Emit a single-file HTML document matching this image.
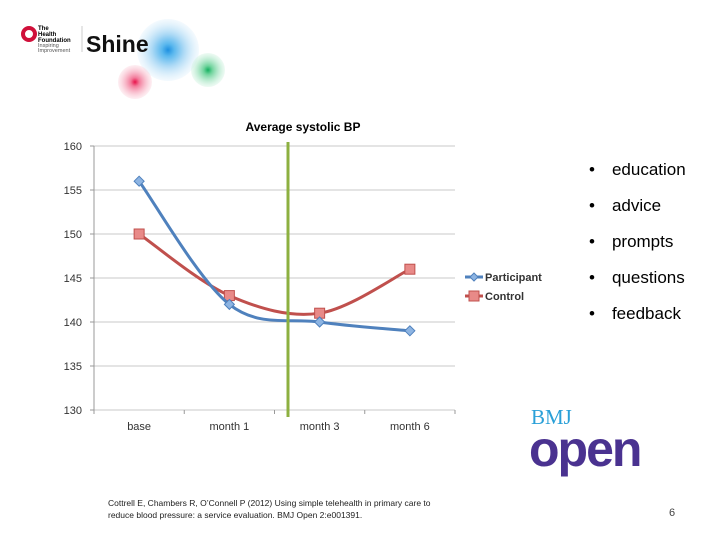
<!DOCTYPE html>
<html><head><meta charset="utf-8"><style>
body{margin:0;width:720px;height:540px;background:#fff;overflow:hidden;position:relative;font-family:"Liberation Sans",sans-serif}
.a{position:absolute}
ul{position:absolute;left:589px;top:158px;margin:0;padding:0;list-style:none}
li{font-size:17px;height:36px;line-height:24px;color:#000}
li:before{content:"•";margin-right:17px}
</style></head><body>
<svg class="a" style="left:0;top:0" width="240" height="110">
<defs>
<radialGradient id="gb"><stop offset="0" stop-color="#1e90e0"/><stop offset="0.2" stop-color="#5bb8ee"/><stop offset="0.5" stop-color="#a9d8f5"/><stop offset="1" stop-color="#e3f2fc" stop-opacity="0.4"/></radialGradient>
<radialGradient id="gr"><stop offset="0" stop-color="#e8124a"/><stop offset="0.25" stop-color="#f27a9a"/><stop offset="1" stop-color="#fbd7e0" stop-opacity="0.4"/></radialGradient>
<radialGradient id="gg"><stop offset="0" stop-color="#14b060"/><stop offset="0.25" stop-color="#6fd39c"/><stop offset="1" stop-color="#d3f3e2" stop-opacity="0.4"/></radialGradient>
</defs>
<circle cx="168" cy="50" r="31" fill="url(#gb)"/>
<circle cx="135" cy="82" r="17" fill="url(#gr)"/>
<circle cx="208" cy="70" r="17" fill="url(#gg)"/>
<circle cx="29" cy="34" r="6" fill="none" stroke="#d0103a" stroke-width="4"/>
<text x="38" y="30" font-size="6" font-weight="bold">The</text>
<text x="38" y="36" font-size="6" font-weight="bold">Health</text>
<text x="38" y="42" font-size="6" font-weight="bold">Foundation</text>
<text x="38" y="47" font-size="5.5" fill="#555">Inspiring</text>
<text x="38" y="52" font-size="5.5" fill="#555">Improvement</text>
<line x1="82" y1="26" x2="82" y2="52" stroke="#ccc"/>
<text x="86" y="52" font-size="23" font-weight="bold" fill="#111">Shine</text>
</svg>

<svg class="a" style="left:0;top:0" width="720" height="540" id="chart"></svg>

<ul>
<li>education</li>
<li>advice</li>
<li>prompts</li>
<li>questions</li>
<li>feedback</li>
</ul>

<div class="a" style="left:531px;top:405px;font-family:'Liberation Serif',serif;font-size:21px;color:#2aa0d8">BMJ</div>
<div class="a" style="left:529px;top:420px;font-size:50px;font-weight:bold;color:#4a3290;letter-spacing:-2px">open</div>
<div class="a" style="left:108px;top:497px;font-size:8.5px;line-height:12px;color:#222">Cottrell E, Chambers R, O’Connell P (2012) Using simple telehealth in primary care to<br>reduce blood pressure: a service evaluation. BMJ Open 2:e001391.</div>
<div class="a" style="left:669px;top:507px;font-size:11px;color:#444">6</div>

<script>
const categories=["base","month 1","month 3","month 6"];
const participant=[156,142,140,139];
const control=[150,143,141,146];
const yTicks=[130,135,140,145,150,155,160];
const NS="http://www.w3.org/2000/svg";
const svg=document.getElementById('chart');
const L=94,R=455,T=146,B=410,yMin=130,yMax=160;
const bw=(R-L)/categories.length;
const x=i=>L+bw*(i+0.5);
const y=v=>B-(v-yMin)/(yMax-yMin)*(B-T);
function el(t,a){const e=document.createElementNS(NS,t);for(const k in a)e.setAttribute(k,a[k]);svg.appendChild(e);return e;}
let t=el('text',{x:303,y:131,'font-size':12,'font-weight':'bold','text-anchor':'middle'});t.textContent='Average systolic BP';


yTicks.forEach(v=>{
 const g=el('line',{x1:L,x2:R,y1:y(v),y2:y(v),stroke:'#c8c8c8'});
 
 
 el('line',{x1:L-4,x2:L,y1:y(v),y2:y(v),stroke:'#999'});
 const tx=el('text',{x:82,y:y(v)+4,'font-size':11,'text-anchor':'end',fill:'#333'});tx.textContent=v;
 
 
});
el('line',{x1:L,x2:L,y1:T,y2:B,stroke:'#999'});
for(let i=0;i<=categories.length;i++)el('line',{x1:L+bw*i,x2:L+bw*i,y1:B,y2:B+4,stroke:'#999'});
categories.forEach((c,i)=>{const tx=el('text',{x:x(i),y:430,'font-size':11,'text-anchor':'middle',fill:'#333'});tx.textContent=c;
 
 });
function smooth(vals){
 const p=vals.map((v,i)=>[x(i),y(v)]);let d=`M${p[0][0]},${p[0][1]}`;
 for(let i=0;i<p.length-1;i++){const p0=p[i-1]||p[i],p1=p[i],p2=p[i+1],p3=p[i+2]||p2;
  const c1=[p1[0]+(p2[0]-p0[0])/6,p1[1]+(p2[1]-p0[1])/6],c2=[p2[0]-(p3[0]-p1[0])/6,p2[1]-(p3[1]-p1[1])/6];
  d+=` C${c1[0]},${c1[1]} ${c2[0]},${c2[1]} ${p2[0]},${p2[1]}`;}
 return d;}
const lc=el('path',{d:smooth(control),fill:'none',stroke:'#c0504d','stroke-width':3});


control.forEach((v,i)=>{const m=el('rect',{x:x(i)-5,y:y(v)-5,width:10,height:10,fill:'#e88a88',stroke:'#c0504d'});
 
 });
const lp=el('path',{d:smooth(participant),fill:'none',stroke:'#4f81bd','stroke-width':3});


participant.forEach((v,i)=>{const m=el('path',{d:`M${x(i)},${y(v)-5}L${x(i)+5},${y(v)}L${x(i)},${y(v)+5}L${x(i)-5},${y(v)}Z`,fill:'#8db4e2',stroke:'#4f81bd'});
 
 });
const gl=el('line',{x1:288,x2:288,y1:142,y2:417,stroke:'#8db040','stroke-width':3});


el('line',{x1:465,x2:483,y1:277,y2:277,stroke:'#4f81bd','stroke-width':3});
el('path',{d:'M474,273L478,277L474,281L470,277Z',fill:'#8db4e2',stroke:'#4f81bd'});
let lt=el('text',{x:485,y:281,'font-size':11,'font-weight':'bold',fill:'#333'});lt.textContent='Participant';


el('line',{x1:465,x2:483,y1:296,y2:296,stroke:'#c0504d','stroke-width':3});
el('rect',{x:469,y:291,width:10,height:10,fill:'#e88a88',stroke:'#c0504d'});
lt=el('text',{x:485,y:300,'font-size':11,'font-weight':'bold',fill:'#333'});lt.textContent='Control';


</script>
</body></html>
